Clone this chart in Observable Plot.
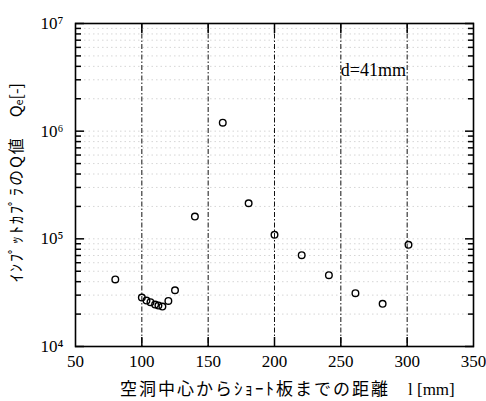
<!DOCTYPE html>
<html><head><meta charset="utf-8">
<script src="https://cdn.jsdelivr.net/npm/d3@7"></script>
<script src="https://cdn.jsdelivr.net/npm/@observablehq/plot@0.6"></script>
<style>
body{margin:0;background:#fff;}
svg{font-family:"Liberation Serif",serif;}
</style></head><body><div id="chart"></div>
<script>
const distance = [80, 100, 103.5, 106.5, 110, 112.5, 115.5, 120, 125, 140, 161, 180.5, 200, 220.5, 241, 261, 281.5, 301];
const qValue = [42000, 28500, 26700, 25800, 24500, 24000, 23500, 26500, 33300, 161000, 1200000, 214000, 109000, 70500, 46000, 31300, 24900, 88000];
const xTicks = [50, 100, 150, 200, 250, 300, 350];
const xGrid = [100, 150, 200, 250, 300];
const yMajor = [1e4, 1e5, 1e6, 1e7];
const superDigits = {4: "⁴", 5: "⁵", 6: "⁶", 7: "⁷"};
const yMinor = [2,3,4,5,6,7,8,9].flatMap(m => [1e4, 1e5, 1e6].map(d => m * d));
const annotation = [{x: 250, y: 3.7e6, label: "d=41mm"}];
const xTitle = "空洞中心からｼｮｰﾄ板までの距離";
const xUnit = "l [mm]";
const yTitle = "ｲﾝﾌﾟｯﾄｶﾌﾟﾗのQ値";

const data = distance.map((d, i) => ({l: d, q: qValue[i]}));

const chart = Plot.plot({
  width: 486,
  height: 401,
  marginLeft: 75,
  marginRight: 13,
  marginTop: 23,
  marginBottom: 55,
  x: {domain: [50, 350]},
  y: {type: "log", domain: [1e4, 1e7]},
  style: {fontFamily: "'Liberation Serif', serif", fontSize: "17px", color: "#000"},
  marks: [
    Plot.ruleY(yMinor.concat(yMajor), {stroke: "#999", strokeWidth: 0.8, strokeDasharray: "1.5,3", strokeOpacity: 0.5}),
    Plot.ruleX(xGrid, {stroke: "#111", strokeWidth: 1, strokeDasharray: "5,2,1.5,2"}),
    Plot.axisX({ticks: xTicks, tickSize: 0, tickPadding: 8, fontSize: 17, label: null}),
    Plot.axisX({ticks: xGrid, anchor: "bottom", tickSize: -9, strokeWidth: 1.5, text: null, label: null}),
    Plot.axisX({ticks: xGrid, anchor: "top", tickSize: -9, strokeWidth: 1.5, text: null, label: null}),
    Plot.axisY({ticks: yMajor, tickFormat: d => "10" + superDigits[Math.round(Math.log10(d))], tickSize: 0, tickPadding: 12, fontSize: 17, label: null}),
    Plot.axisY({ticks: yMajor, anchor: "left", tickSize: -9, strokeWidth: 1.5, text: null, label: null}),
    Plot.axisY({ticks: yMinor, anchor: "left", tickSize: -6, strokeWidth: 1.5, text: null, label: null}),
    Plot.axisY({ticks: yMajor, anchor: "right", tickSize: -9, strokeWidth: 1.5, text: null, label: null}),
    Plot.axisY({ticks: yMinor, anchor: "right", tickSize: -6, strokeWidth: 1.5, text: null, label: null}),
    Plot.frame({stroke: "#000", strokeWidth: 1.6}),
    Plot.dot(data, {x: "l", y: "q", r: 3.3, stroke: "#000", strokeWidth: 1.4, fill: "none"}),
    Plot.text(annotation, {x: "x", y: "y", text: "label", textAnchor: "start", fontSize: 18, fill: "#000", fontFamily: "'Liberation Serif', serif"})
  ]
});

// axis titles as real text
const svg = d3.select(chart);
svg.append("text")
  .attr("x", 120).attr("y", 395)
  .attr("text-anchor", "start")
  .attr("font-family", "'Noto Sans CJK JP', sans-serif")
  .attr("font-size", 17)
  .attr("letter-spacing", 2)
  .text(xTitle);
svg.append("text")
  .attr("x", 408).attr("y", 395)
  .attr("text-anchor", "start")
  .attr("font-family", "'Liberation Serif', serif")
  .attr("font-size", 17)
  .text(xUnit);
svg.append("text")
  .attr("transform", "translate(15,282) rotate(-90)")
  .attr("text-anchor", "start")
  .attr("dominant-baseline", "central")
  .attr("font-family", "'Noto Sans CJK JP', sans-serif")
  .attr("font-size", 16)
  .attr("letter-spacing", 2)
  .text(yTitle);
const yl = svg.append("text")
  .attr("transform", "translate(15,83) rotate(-90)")
  .attr("text-anchor", "end")
  .attr("dominant-baseline", "central")
  .attr("font-family", "'Noto Sans CJK JP', sans-serif")
  .attr("font-size", 16);
yl.append("tspan").text("Q");
yl.append("tspan").attr("font-size", 11).attr("dy", 3).text("e");
yl.append("tspan").attr("dy", -3).text("[-]");

document.getElementById("chart").appendChild(chart);
</script></body></html>
